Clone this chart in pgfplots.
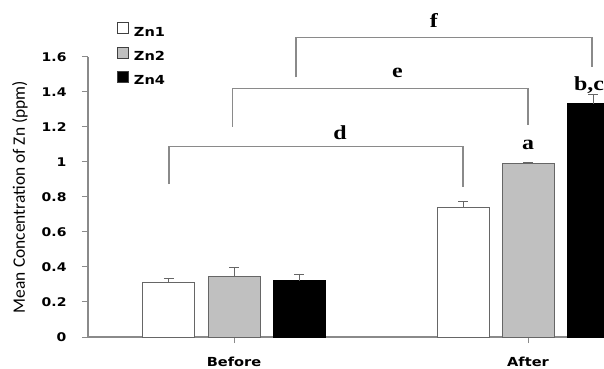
\documentclass[border=0pt]{standalone}
\usepackage{fontspec}
\setmainfont{DejaVu Sans}[FakeStretch=1.17]
\newfontfamily\labfont{Carlito}
\newfontfamily\serfont{Liberation Serif}[FakeStretch=1.2]
\usepackage{pgfplots}
\pgfplotsset{compat=1.18}
\definecolor{barline}{HTML}{666666}
\definecolor{axline}{HTML}{8A8A8A}
\definecolor{zngray}{HTML}{C0C0C0}
\begin{document}
\begin{tikzpicture}
\pgfplotsset{mylegend/.style={legend image code/.code={\draw[##1,draw=black!75,line width=0.8bp] (0bp,-1.5bp) rectangle (11bp,9.5bp);}}}
\begin{axis}[name=ax, scale only axis, width=516bp, height=280bp,
  xmin=-0.4966, xmax=1.2585, ymin=0, ymax=1.6, clip=false,
  axis lines*=left, axis line style={draw=axline, line width=1.3bp},
  ytick={0,0.2,0.4,0.6,0.8,1,1.2,1.4,1.6},
  xtick={0,1}, xticklabels={Before,After},
  tick align=outside, major tick length=6bp,
  tick style={draw=axline, line width=1bp},
  /pgf/number format/assume math mode=true,
  tick label style={font=\fontsize{12}{14}\selectfont\bfseries},
  yticklabel style={xshift=-12bp},
  xticklabel style={yshift=-11bp, font=\fontsize{12.5}{14}\selectfont\bfseries},
  ylabel={Mean Concentration of Zn (ppm)},
  ylabel style={font=\labfont\fontsize{17.5}{20}\selectfont, at={(axis description cs:-0.1318,0.5)}, anchor=center},
  legend style={at={(axis description cs:0.0562,1.125)}, anchor=north west, draw=none, fill=none,
    inner sep=0pt, row sep=9bp, column sep=5bp,
    nodes={inner sep=0pt, text height=9.5bp, text depth=1.5bp},
    font=\fontsize{12.5}{14}\selectfont\bfseries},
  legend cell align=left,
  error bars/y dir=plus, error bars/y explicit,
  error bars/error bar style={draw=barline, line width=1bp},
  error bars/error mark options={draw=barline, line width=1bp, mark size=5bp, rotate=90},
]
\addplot[ybar, bar width=52bp, bar shift=0bp, fill=white, draw=barline, line width=1bp, mylegend]
  coordinates {(-0.2211,0.310) +- (0,0.027) (0.7789,0.741) +- (0,0.032)};
\addplot[ybar, bar width=52bp, bar shift=0bp, fill=zngray, draw=barline, line width=1bp, mylegend]
  coordinates {(0,0.345) +- (0,0.051) (1,0.992) +- (0,0.003)};
\addplot[ybar, bar width=52bp, bar shift=0bp, fill=black, draw=black, line width=1bp, mylegend]
  coordinates {(0.2211,0.322) +- (0,0.038) (1.2211,1.333) +- (0,0.054)};
\legend{Zn1,Zn2,Zn4}
\draw[axline, line width=1.2bp] (axis cs:-0.221,0.873) |- (axis cs:0.779,1.087) -- (axis cs:0.779,0.857);
\draw[axline, line width=1.2bp] (axis cs:-0.004,1.202) |- (axis cs:1.0,1.421) -- (axis cs:1.0,1.211);
\draw[axline, line width=1.2bp] (axis cs:0.211,1.484) |- (axis cs:1.218,1.710) -- (axis cs:1.218,1.545);
\node[anchor=base, inner sep=0pt, font=\serfont\bfseries\fontsize{20}{22}\selectfont] at (axis cs:0.361,1.126) {d};
\node[anchor=base, inner sep=0pt, font=\serfont\bfseries\fontsize{20}{22}\selectfont] at (axis cs:0.556,1.480) {e};
\node[anchor=base, inner sep=0pt, font=\serfont\bfseries\fontsize{20}{22}\selectfont] at (axis cs:0.680,1.766) {f};
\node[anchor=base, inner sep=0pt, font=\serfont\bfseries\fontsize{20}{22}\selectfont] at (axis cs:1.0,1.069) {a};
\node[anchor=base west, inner sep=0pt, font=\serfont\bfseries\fontsize{20}{22}\selectfont] at (axis cs:1.156,1.406) {b,c};
\end{axis}
\pgfresetboundingbox
\path[use as bounding box] ([xshift=-88bp,yshift=-32bp]ax.south west) rectangle ([yshift=57bp]ax.north east);
\end{tikzpicture}
\end{document}
